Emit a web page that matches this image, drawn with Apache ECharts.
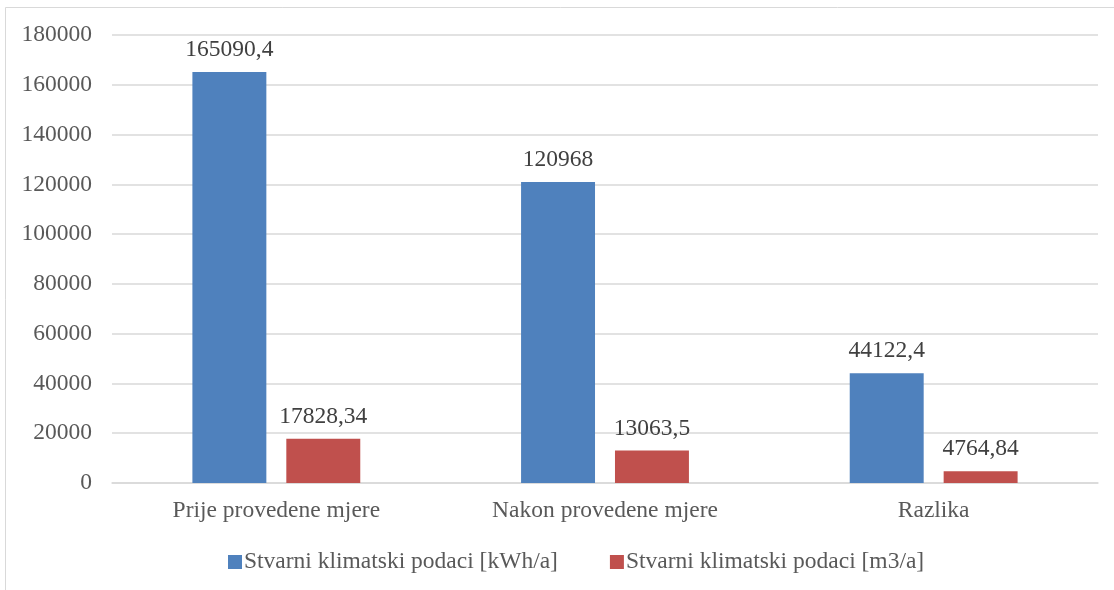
<!DOCTYPE html>
<html>
<head>
<meta charset="utf-8">
<script src="https://cdn.jsdelivr.net/npm/echarts@6/dist/echarts.min.js"></script>
<style>
  html, body { margin: 0; padding: 0; background: #fff; }
  #main { width: 1114px; height: 590px; }
</style>
</head>
<body>
<div id="main"></div>
<script>
// podaci
var categories = ['Prije provedene mjere', 'Nakon provedene mjere', 'Razlika'];
var seriesNames = ['Stvarni klimatski podaci [kWh/a]', 'Stvarni klimatski podaci [m3/a]'];
var kwhValues = [165090.4, 120968, 44122.4];
var m3Values = [17828.34, 13063.5, 4764.84];

var font = 'Liberation Serif';
var fs = 23.5;

var myChart = echarts.init(document.getElementById('main'));

function labelFmt(p) {
    return String(p.value).replace('.', ',');
}

var option = {
    backgroundColor: '#fff',
    animation: false,
    textStyle: { fontFamily: font },
    graphic: [{
        type: 'rect',
        shape: { x: 5.5, y: 7.5, width: 1120, height: 600 },
        style: { fill: 'none', stroke: '#d9d9d9', lineWidth: 1 },
        silent: true
    }],
    grid: {
        left: 112,
        right: 16,
        top: 35,
        bottom: 107
    },
    legend: {
        top: 545,
        left: 223,
        itemWidth: 14,
        itemHeight: 14,
        itemGap: 52,
        icon: 'rect',
        textStyle: { fontFamily: font, fontSize: fs, color: '#595959', padding: [0, 0, 0, -3] },
        data: seriesNames
    },
    xAxis: {
        type: 'category',
        data: categories,
        axisLine: { lineStyle: { color: '#d9d9d9', width: 1.5 } },
        axisTick: { show: false },
        axisLabel: { fontFamily: font, fontSize: fs, color: '#595959', margin: 16 }
    },
    yAxis: {
        type: 'value',
        min: 0,
        max: 180000,
        interval: 20000,
        axisLine: { show: false },
        axisTick: { show: false },
        splitLine: { lineStyle: { color: '#d9d9d9', width: 1.5 } },
        axisLabel: {
            fontFamily: font, fontSize: fs, color: '#595959', margin: 20,
            formatter: function (v) { return String(v); }
        }
    },
    series: [
        {
            name: seriesNames[0],
            type: 'bar',
            data: kwhValues,
            barWidth: '22.5%',
            barGap: '27%',
            itemStyle: { color: '#4f81bd' },
            label: {
                show: true,
                position: 'top',
                distance: 10,
                fontFamily: font,
                fontSize: fs,
                color: '#404040',
                formatter: labelFmt
            }
        },
        {
            name: seriesNames[1],
            type: 'bar',
            data: m3Values,
            barWidth: '22.5%',
            itemStyle: { color: '#c0504d' },
            label: {
                show: true,
                position: 'top',
                distance: 10,
                fontFamily: font,
                fontSize: fs,
                color: '#404040',
                formatter: labelFmt
            }
        }
    ]
};

myChart.setOption(option);
</script>
</body>
</html>
